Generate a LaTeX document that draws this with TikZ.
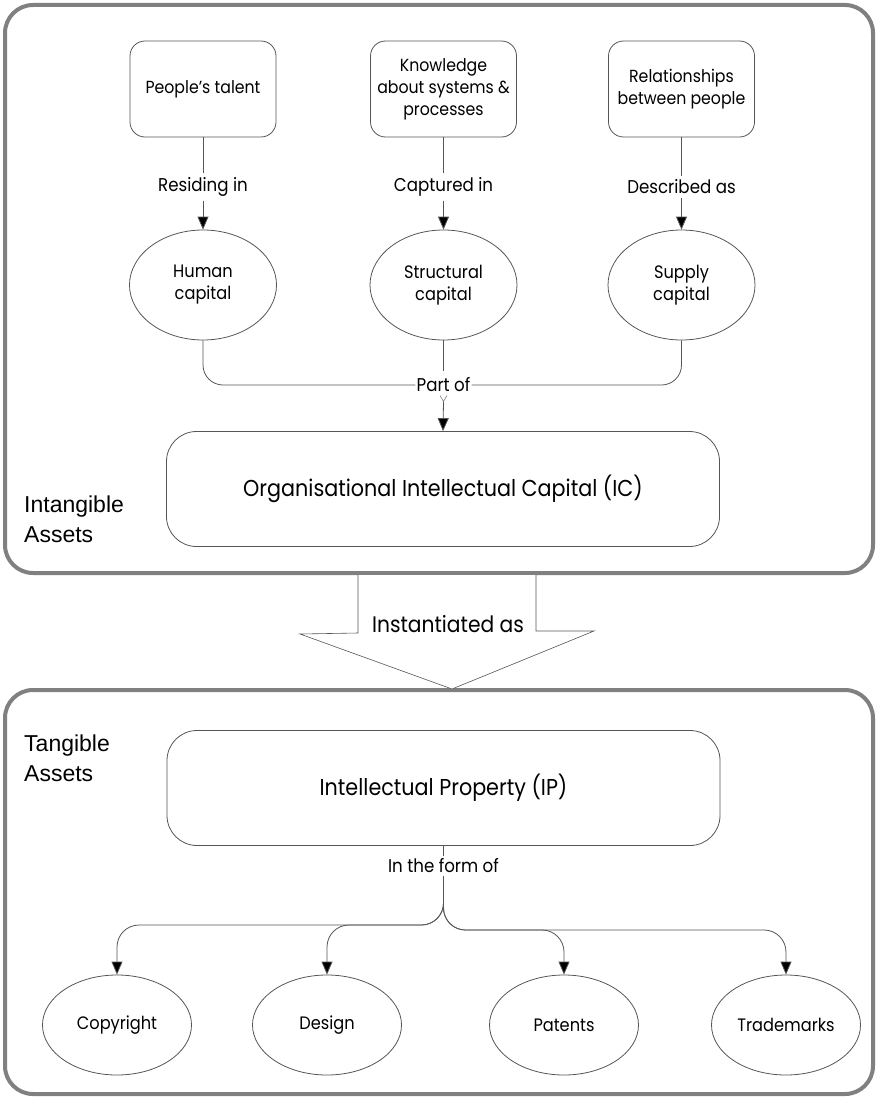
\documentclass[tikz,border=0pt]{standalone}
\usepackage{fontspec}
\setmainfont{Poppins}[FakeStretch=0.9]
\newfontfamily\arialf{Liberation Sans}
\usetikzlibrary{arrows.meta,shapes.geometric,calc}
\newcommand\fsz[2]{\fontsize{#1}{#2}\selectfont}
\definecolor{linec}{RGB}{85,85,85}
\definecolor{framec}{RGB}{128,128,128}
\begin{document}
\begin{tikzpicture}[x=1pt,y=-1pt,
  outerbox/.style={draw=framec, line width=4, rounded corners=28},
  topbox/.style={draw=linec, line width=0.8, rounded corners=15, minimum width=146, minimum height=96, align=center, font=\fsz{17.5}{22}, inner sep=2},
  capell/.style={draw=linec, line width=0.8, ellipse, minimum width=147, minimum height=110, align=center, font=\fsz{18}{22}, inner sep=0},
  ipell/.style={draw=linec, line width=0.8, ellipse, minimum width=149, minimum height=100, align=center, font=\fsz{18}{22}, inner sep=0},
  bigbox/.style={draw=linec, line width=0.8, rounded corners=30, minimum width=553, minimum height=115, font=\fsz{23}{27}},
  lbl/.style={font=\fsz{18.5}{22}, inner sep=4},
  conn/.style={draw=linec, line width=0.8},
  arr/.style={conn, -{Triangle[length=13,width=11,fill=black]}},
  side/.style={font=\arialf\fsz{23}{30}, align=left, anchor=north west, inner sep=0}
]
\useasboundingbox (0,0) rectangle (877,1097);

% outer frames
\node[outerbox, minimum width=868, minimum height=568] (intang) at (439,289) {};
\node[outerbox, minimum width=868, minimum height=404] (tang) at (439,892) {};

\node[side] (intlbl) at (24,496) {Intangible\\Assets};
\node[side] (tanlbl) at (24,735) {Tangible\\Assets};

% top row
\node[topbox] (talent) at (203,89) {People's talent};
\node[topbox] (know) at (443.5,89) {Knowledge\\about systems \&\\processes};
\node[topbox] (rel) at (681.5,89) {Relationships\\between people};

\node[capell] (human) at (203,285) {Human\\capital};
\node[capell] (struct) at (443.5,285) {Structural\\capital};
\node[capell] (supply) at (681.5,285) {Supply\\capital};

\node[lbl] (l1) at (203,187) {Residing in};
\node[lbl] (l2) at (443.5,187) {Captured in};
\node[lbl] (l3) at (681.5,187) {Described as};

\draw[conn] (talent.south) -- (l1.north);
\draw[arr] (l1.south) -- (human.north);
\draw[conn] (know.south) -- (l2.north);
\draw[arr] (l2.south) -- (struct.north);
\draw[conn] (rel.south) -- (l3.north);
\draw[arr] (l3.south) -- (supply.north);

\node[bigbox] (ic) at (443,489) {Organisational Intellectual Capital (IC)};
\node[lbl, inner sep=1] (partof) at (443.5,385) {Part of};
\draw[conn, rounded corners=20] (human.south) |- (partof.west);
\draw[conn, rounded corners=20] (supply.south) |- (partof.east);
\draw[conn] (struct.south) -- ($(partof.north)+(0,-6)$);
\draw[arr] ($(partof.south)+(0,8)$) -- (ic.north);
\draw[draw=framec, line width=0.6] (440,395.5) -- (443.5,401.5) -- (447,395.5);

% big arrow
\draw[linec, line width=0.6, fill=white]
  (358,575) -- (358,633) -- (300,634) -- (452,689) -- (594,631) -- (536,631) -- (536,575);
\node[font=\fsz{22.5}{26}] (inst) at (448,624) {Instantiated as};

% bottom
\node[bigbox] (ip) at (443.5,788) {Intellectual Property (IP)};
\node[lbl, inner sep=3] (form) at (443.5,866) {In the form of};
\draw[conn] (ip.south) -- (form.north);

\node[ipell] (copy) at (117,1025) {Copyright};
\node[ipell] (design) at (327,1025) {Design};
\node[ipell] (pat) at (564,1025) {Patents};
\node[ipell] (tm) at (786,1025) {Trademarks};

\coordinate (hl) at (0,925);
\coordinate (hr) at (0,930);
\draw[arr, rounded corners=22] (form.south) |- (copy.north |- hl) -- (copy.north);
\draw[arr, rounded corners=22] (form.south) |- (design.north |- hl) -- (design.north);
\draw[arr, rounded corners=22] (form.south) |- (pat.north |- hr) -- (pat.north);
\draw[arr, rounded corners=22] (form.south) |- (tm.north |- hr) -- (tm.north);
\end{tikzpicture}
\end{document}
